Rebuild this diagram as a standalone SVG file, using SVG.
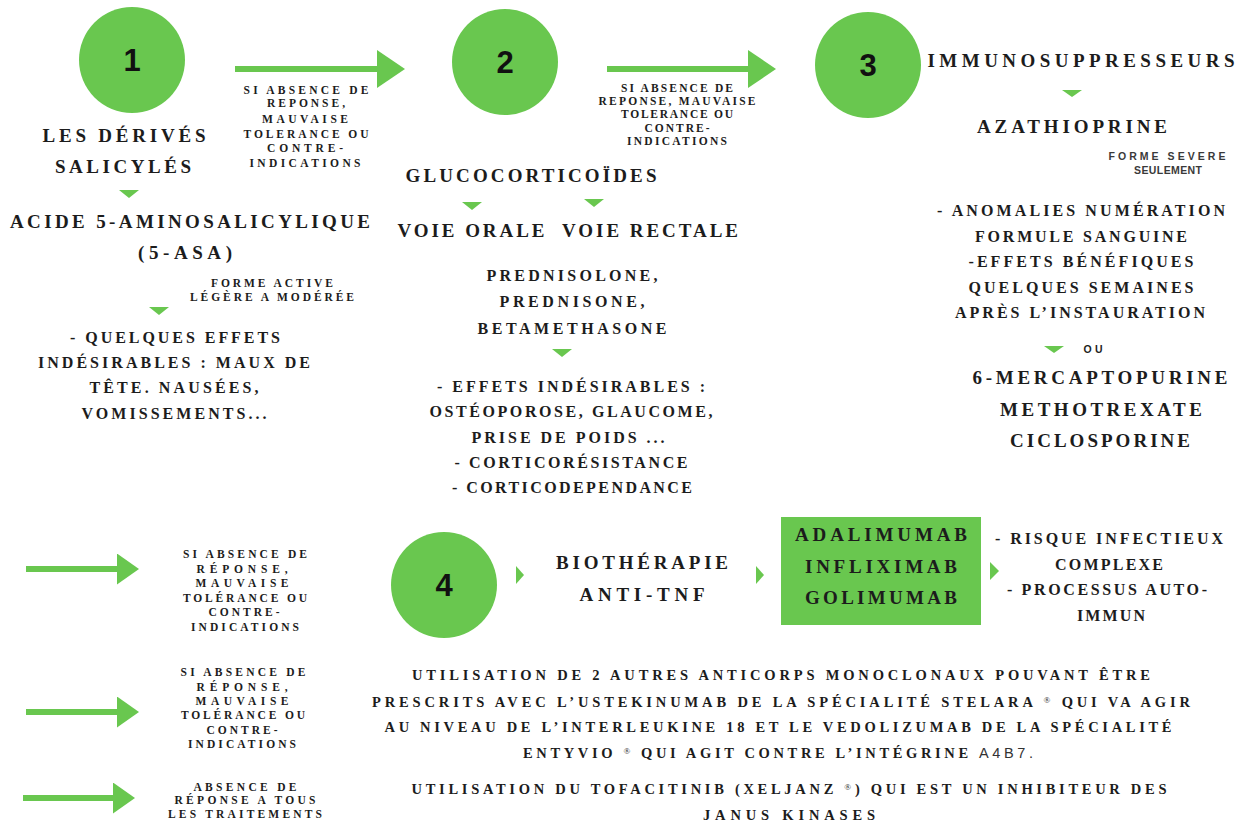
<svg xmlns="http://www.w3.org/2000/svg" width="1242" height="824" viewBox="0 0 1242 824">
<style>
  text{font-family:"Liberation Serif","DejaVu Serif",serif;font-weight:bold;fill:#1c1c1c;text-anchor:middle}
  .h{font-size:19px}
  .b{font-size:16px}
  .s{font-size:11.5px}
  .p{font-size:14.5px}
  .sans{font-family:"Liberation Sans","DejaVu Sans",sans-serif;font-size:10.5px;fill:#3a3a3a}
  .num{font-family:"Liberation Sans","DejaVu Sans",sans-serif;font-size:31px;fill:#111}
  .circ{fill:#69c74f}
  .tri{fill:#69c74f}
  .shaft{stroke:#69c74f;stroke-width:6;fill:none}
  .reg{font-size:9px;font-weight:normal}
</style>
<defs>
  <marker id="bigHead" markerUnits="userSpaceOnUse" markerWidth="28" markerHeight="38" refX="0" refY="19" orient="auto">
    <path d="M0,0 L28,19 L0,38 Z" fill="#69c74f"/>
  </marker>
  <marker id="smallHead" markerUnits="userSpaceOnUse" markerWidth="22" markerHeight="31" refX="0" refY="15.5" orient="auto">
    <path d="M0,0 L22,15.5 L0,31 Z" fill="#69c74f"/>
  </marker>
</defs>
<rect width="1242" height="824" fill="#ffffff"/>

<g id="connectors">
  <line class="shaft" x1="235" y1="69" x2="377" y2="69" marker-end="url(#bigHead)"/>
  <line class="shaft" x1="607" y1="69" x2="748" y2="69" marker-end="url(#bigHead)"/>
  <line class="shaft" x1="26" y1="569" x2="117" y2="569" marker-end="url(#smallHead)"/>
  <line class="shaft" x1="26" y1="712" x2="117" y2="712" marker-end="url(#smallHead)"/>
  <line class="shaft" x1="23" y1="798" x2="113" y2="798" marker-end="url(#smallHead)"/>
  <polygon class="tri" points="119,190 139,190 129,198"/>
  <polygon class="tri" points="149,307 169,307 159,315"/>
  <polygon class="tri" points="462,202 482,202 472,210"/>
  <polygon class="tri" points="584,199 604,199 594,207"/>
  <polygon class="tri" points="552,349 572,349 562,357"/>
  <polygon class="tri" points="1062,90 1082,90 1072,97"/>
  <polygon class="tri" points="1044,346 1064,346 1054,353"/>
  <polygon class="tri" points="516,566 524,575 516,584"/>
  <polygon class="tri" points="756,566 764,575 756,584"/>
  <polygon class="tri" points="990,562 999,571 990,580"/>
</g>

<g id="label-arrow1">
  <text class="s" x="306" y="94" textLength="125" lengthAdjust="spacing">SI ABSENCE DE</text>
  <text class="s" x="306" y="107" textLength="78" lengthAdjust="spacing">REPONSE,</text>
  <text class="s" x="305" y="123" textLength="86" lengthAdjust="spacing">MAUVAISE</text>
  <text class="s" x="306" y="138" textLength="125" lengthAdjust="spacing">TOLERANCE OU</text>
  <text class="s" x="305" y="152" textLength="76" lengthAdjust="spacing">CONTRE-</text>
  <text class="s" x="305" y="167" textLength="111" lengthAdjust="spacing">INDICATIONS</text>
</g>

<g id="label-arrow2">
  <text class="s" x="677" y="92" textLength="112" lengthAdjust="spacing">SI ABSENCE DE</text>
  <text class="s" x="677" y="105" textLength="157" lengthAdjust="spacing">REPONSE, MAUVAISE</text>
  <text class="s" x="677" y="118" textLength="112" lengthAdjust="spacing">TOLERANCE OU</text>
  <text class="s" x="677" y="132" textLength="65" lengthAdjust="spacing">CONTRE-</text>
  <text class="s" x="677" y="145" textLength="100" lengthAdjust="spacing">INDICATIONS</text>
</g>

<g id="node-1">
  <circle class="circ" cx="132" cy="60" r="53"/>
  <text class="num" x="132" y="71">1</text>
  <text class="h" x="124" y="142" textLength="163" lengthAdjust="spacing">LES DÉRIVÉS</text>
  <text class="h" x="123" y="173" textLength="136" lengthAdjust="spacing">SALICYLÉS</text>
  <text class="h" x="190" y="228" textLength="360" lengthAdjust="spacing">ACIDE 5-AMINOSALICYLIQUE</text>
  <text class="h" x="185" y="259" textLength="94" lengthAdjust="spacing">(5-ASA)</text>
  <text class="s" x="272" y="287" textLength="122" lengthAdjust="spacing">FORME ACTIVE</text>
  <text class="s" x="272" y="301" textLength="164" lengthAdjust="spacing">LÉGÈRE A MODÉRÉE</text>
  <text class="b" x="175" y="343" textLength="210" lengthAdjust="spacing">- QUELQUES EFFETS</text>
  <text class="b" x="174" y="368" textLength="272" lengthAdjust="spacing">INDÉSIRABLES : MAUX DE</text>
  <text class="b" x="174" y="393" textLength="169" lengthAdjust="spacing">TÊTE. NAUSÉES,</text>
  <text class="b" x="174" y="419" textLength="185" lengthAdjust="spacing">VOMISSEMENTS...</text>
</g>

<g id="node-2">
  <circle class="circ" cx="505" cy="62" r="53"/>
  <text class="num" x="505" y="73">2</text>
  <text class="h" x="531" y="182" textLength="251" lengthAdjust="spacing">GLUCOCORTICOÏDES</text>
  <text class="h" x="471" y="237" textLength="147" lengthAdjust="spacing">VOIE ORALE</text>
  <text class="h" x="650" y="237" textLength="176" lengthAdjust="spacing">VOIE RECTALE</text>
  <text class="b" x="572" y="281" textLength="171" lengthAdjust="spacing">PREDNISOLONE,</text>
  <text class="b" x="572" y="307" textLength="145" lengthAdjust="spacing">PREDNISONE,</text>
  <text class="b" x="572" y="334" textLength="189" lengthAdjust="spacing">BETAMETHASONE</text>
  <text class="b" x="571" y="392" textLength="268" lengthAdjust="spacing">- EFFETS INDÉSIRABLES :</text>
  <text class="b" x="571" y="417" textLength="283" lengthAdjust="spacing">OSTÉOPOROSE, GLAUCOME,</text>
  <text class="b" x="568" y="443" textLength="193" lengthAdjust="spacing">PRISE DE POIDS ...</text>
  <text class="b" x="571" y="468" textLength="233" lengthAdjust="spacing">- CORTICORÉSISTANCE</text>
  <text class="b" x="572" y="493" textLength="240" lengthAdjust="spacing">- CORTICODEPENDANCE</text>
</g>

<g id="node-3">
  <circle class="circ" cx="868" cy="65" r="53"/>
  <text class="num" x="868" y="76">3</text>
  <text class="h" x="1081" y="67" textLength="307" lengthAdjust="spacing">IMMUNOSUPPRESSEURS</text>
  <text class="h" x="1072" y="133" textLength="190" lengthAdjust="spacing">AZATHIOPRINE</text>
  <text class="sans" x="1167" y="160" textLength="117" lengthAdjust="spacing">FORME SEVERE</text>
  <text class="sans" x="1168" y="174" textLength="68" lengthAdjust="spacing">SEULEMENT</text>
  <text class="b" x="1081" y="216" textLength="288" lengthAdjust="spacing">- ANOMALIES NUMÉRATION</text>
  <text class="b" x="1081" y="242" textLength="212" lengthAdjust="spacing">FORMULE SANGUINE</text>
  <text class="b" x="1081" y="267" textLength="225" lengthAdjust="spacing">-EFFETS BÉNÉFIQUES</text>
  <text class="b" x="1081" y="293" textLength="225" lengthAdjust="spacing">QUELQUES SEMAINES</text>
  <text class="b" x="1080" y="318" textLength="250" lengthAdjust="spacing">APRÈS L’INSTAURATION</text>
  <text class="sans" x="1093" y="353" textLength="19" lengthAdjust="spacing" style="fill:#1e1e1e">OU</text>
  <text class="h" x="1100" y="384" textLength="255" lengthAdjust="spacing">6-MERCAPTOPURINE</text>
  <text class="h" x="1101" y="416" textLength="202" lengthAdjust="spacing">METHOTREXATE</text>
  <text class="h" x="1100" y="447" textLength="180" lengthAdjust="spacing">CICLOSPORINE</text>
</g>

<g id="label-arrow3">
  <text class="s" x="245" y="558" textLength="124" lengthAdjust="spacing">SI ABSENCE DE</text>
  <text class="s" x="242" y="573" textLength="91" lengthAdjust="spacing">RÉPONSE,</text>
  <text class="s" x="242" y="587" textLength="93" lengthAdjust="spacing">MAUVAISE</text>
  <text class="s" x="245" y="602" textLength="124" lengthAdjust="spacing">TOLÉRANCE OU</text>
  <text class="s" x="244" y="616" textLength="71" lengthAdjust="spacing">CONTRE-</text>
  <text class="s" x="245" y="631" textLength="108" lengthAdjust="spacing">INDICATIONS</text>
</g>

<g id="label-arrow4">
  <text class="s" x="243" y="676" textLength="125" lengthAdjust="spacing">SI ABSENCE DE</text>
  <text class="s" x="242" y="691" textLength="91" lengthAdjust="spacing">RÉPONSE,</text>
  <text class="s" x="242" y="705" textLength="93" lengthAdjust="spacing">MAUVAISE</text>
  <text class="s" x="243" y="719" textLength="124" lengthAdjust="spacing">TOLÉRANCE OU</text>
  <text class="s" x="242" y="734" textLength="71" lengthAdjust="spacing">CONTRE-</text>
  <text class="s" x="242" y="748" textLength="108" lengthAdjust="spacing">INDICATIONS</text>
</g>

<g id="label-arrow5">
  <text class="s" x="245" y="791" textLength="103" lengthAdjust="spacing">ABSENCE DE</text>
  <text class="s" x="245" y="804" textLength="141" lengthAdjust="spacing">RÉPONSE A TOUS</text>
  <text class="s" x="245" y="818" textLength="154" lengthAdjust="spacing">LES TRAITEMENTS</text>
</g>

<g id="node-4">
  <circle class="circ" cx="444" cy="585" r="53"/>
  <text class="num" x="444" y="596">4</text>
  <text class="h" x="642" y="569" textLength="172" lengthAdjust="spacing">BIOTHÉRAPIE</text>
  <text class="h" x="642" y="601" textLength="125" lengthAdjust="spacing">ANTI-TNF</text>
</g>

<g id="node-anti-tnf">
  <rect x="781" y="517" width="200" height="108" fill="#69c74f"/>
  <text class="h" x="881" y="541" textLength="172" lengthAdjust="spacing">ADALIMUMAB</text>
  <text class="h" x="881" y="573" textLength="152" lengthAdjust="spacing">INFLIXIMAB</text>
  <text class="h" x="881" y="604" textLength="152" lengthAdjust="spacing">GOLIMUMAB</text>
</g>

<g id="node-risks">
  <text class="b" x="1109" y="544" textLength="228" lengthAdjust="spacing">- RISQUE INFECTIEUX</text>
  <text class="b" x="1109" y="570" textLength="108" lengthAdjust="spacing">COMPLEXE</text>
  <text class="b" x="1107" y="595" textLength="200" lengthAdjust="spacing">- PROCESSUS AUTO-</text>
  <text class="b" x="1111" y="621" textLength="68" lengthAdjust="spacing">IMMUN</text>
</g>

<g id="node-other-antibodies">
  <text class="p" x="781" y="680" textLength="738" lengthAdjust="spacing">UTILISATION DE 2 AUTRES ANTICORPS MONOCLONAUX POUVANT ÊTRE</text>
  <text class="p" x="781" y="707" textLength="818" lengthAdjust="spacing">PRESCRITS AVEC L’USTEKINUMAB DE LA SPÉCIALITÉ STELARA <tspan class="reg" baseline-shift="4">®</tspan> QUI VA AGIR</text>
  <text class="p" x="778" y="732" textLength="787" lengthAdjust="spacing">AU NIVEAU DE L’INTERLEUKINE 18 ET LE VEDOLIZUMAB DE LA SPÉCIALITÉ</text>
  <text class="p" x="778" y="758" textLength="510" lengthAdjust="spacing">ENTYVIO <tspan class="reg" baseline-shift="4">®</tspan> QUI AGIT CONTRE L’INTÉGRINE <tspan style="font-family:'Liberation Sans',sans-serif;font-weight:normal;fill:#333">A4B7.</tspan></text>
</g>

<g id="node-tofacitinib">
  <text class="p" x="789" y="794" textLength="755" lengthAdjust="spacing">UTILISATION DU TOFACITINIB (XELJANZ <tspan class="reg" baseline-shift="4">®</tspan>) QUI EST UN INHIBITEUR DES</text>
  <text class="p" x="789" y="820" textLength="172" lengthAdjust="spacing">JANUS KINASES</text>
</g>
</svg>
